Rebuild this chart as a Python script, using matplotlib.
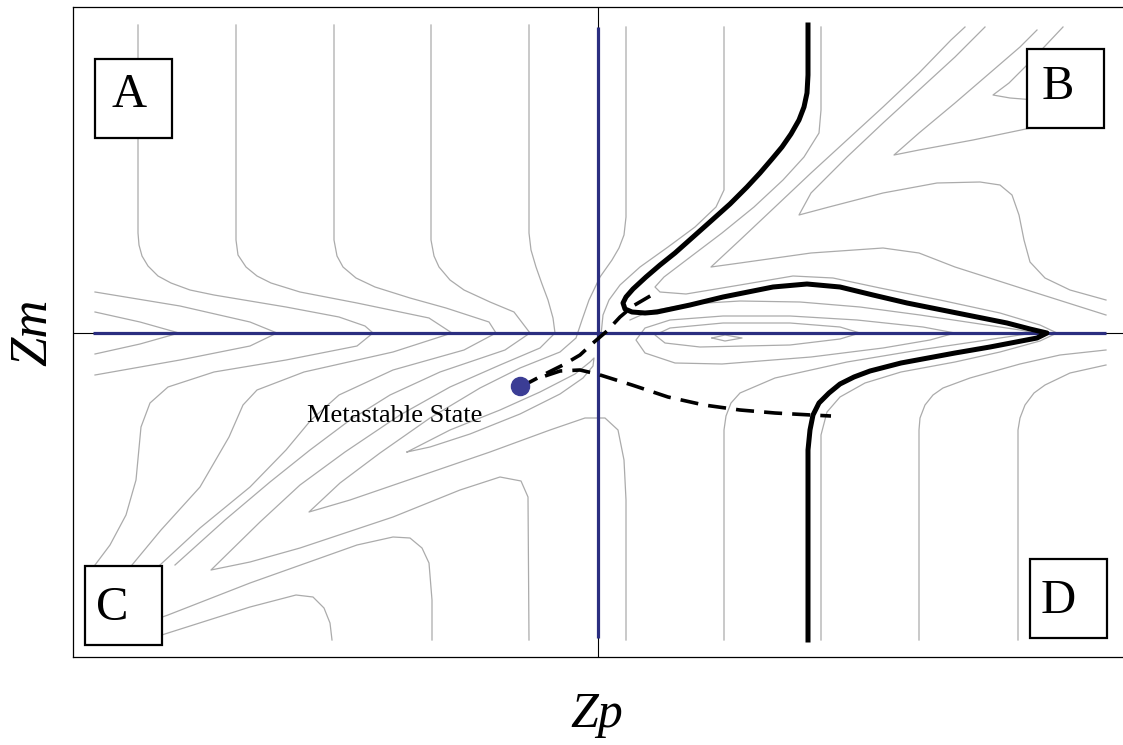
import matplotlib.pyplot as plt
from matplotlib.patches import Rectangle

# chart units: zp to the right, zm up, origin at the cross of the two axes
# ---- thick solid curve
main_zp = [210, 210, 209, 206, 201, 193, 184, 174, 162, 149, 132, 113, 95, 77, 62, 48, 35, 28,
           25, 27, 34, 47, 59, 92, 125, 175, 209, 242, 275, 309, 359, 409, 432, 449, 439, 392,
           357, 303, 272, 256, 242, 231, 221, 215, 212, 210, 210]
main_zm = [308, 258, 240, 226, 213, 199, 186, 174, 160, 146, 129, 112, 96, 80, 68, 56, 44, 36,
           30, 24, 21, 20, 21, 28, 36, 46, 49, 46, 38, 30, 20, 10, 4, 0, -5, -14,
           -20, -30, -38, -44, -51, -60, -70, -82, -97, -117, -307]

# ---- dashed paths out of the metastable state
dash1_zp = [-77, -68, -51, -35, -18, -5, 9, 22, 35, 59]
dash1_zm = [-53, -49, -40, -32, -22, -10, 2, 16, 27, 41]
dash2_zp = [-53, -38, -18, -1, 34, 70, 106, 142, 177, 213, 233]
dash2_zm = [-43, -38, -37, -41, -52, -64, -72, -77, -80, -82, -83]

meta_zp, meta_zm = -78, -53

# ---- grey level curves
g1_zp = [-503, -458, -419, -458, -503]
g1_zm = [21, 11, 0, -11, -21]
g2_zp = [-503, -418, -348, -321, -348, -418, -503]
g2_zm = [41, 27, 11, 0, -13, -27, -42]
g3_zp = [-460, -460, -459, -456, -450, -440, -427, -408, -384, -312, -259, -233, -225, -241,
         -312, -384, -430, -448, -457, -462, -472, -488, -503]
g3_zm = [308, 100, 88, 77, 67, 57, 50, 43, 38, 26, 16, 7, 0, -13,
         -27, -39, -54, -70, -94, -147, -182, -212, -232]
g4_zp = [-362, -362, -360, -352, -341, -327, -298, -241, -169, -146, -205, -294, -341, -355,
         -369, -398, -437, -466]
g4_zm = [308, 93, 78, 66, 57, 50, 41, 30, 15, 0, -19, -39, -57, -72, -104, -154, -197, -232]
g5_zp = [-264, -264, -261, -255, -242, -223, -188, -152, -109, -102, -134, -205, -259, -287,
         -312, -348, -398, -438]
g5_zm = [308, 93, 77, 66, 55, 46, 35, 25, 11, 0, -17, -37, -62, -87, -117, -154, -195, -232]
g6_zp = [-167, -167, -164, -159, -148, -134, -108, -84, -68, -93, -158, -208, -248, -288,
         -328, -373, -423]
g6_zm = [308, 93, 77, 66, 53, 43, 31, 21, 0, -17, -39, -62, -87, -117, -149, -187, -232]
g7_zp = [-69, -69, -67, -62, -56, -50, -45, -43, -58, -98, -148, -198, -253, -298, -338,
         -387, -348, -298, -205, -138, -98, -77, -70, -69]
g7_zm = [308, 100, 83, 66, 49, 33, 15, 0, -15, -32, -54, -82, -119, -152, -189,
         -237, -229, -215, -184, -157, -144, -148, -164, -307]
g8_zp = [28, 28, 26, 21, 14, 2, -9, -16, -22, -38, -78, -118, -168, -218, -258, -289, -248,
         -178, -108, -48, -13, 7, 20, 26, 28, 28]
g8_zm = [306, 116, 98, 85, 73, 56, 33, 13, -5, -19, -35, -55, -85, -120, -150, -179, -167,
         -143, -119, -97, -85, -85, -97, -127, -167, -307]
loop_zp = [-191, -148, -98, -58, -23, -8, -4, -5, -15, -38, -78, -128, -168, -191]
loop_zm = [-119, -97, -77, -59, -41, -29, -25, -33, -45, -61, -81, -101, -114, -119]
b1_zp = [-458, -430, -348, -241, -205, -188, -176, -169, -166, -166]
b1_zm = [-292, -282, -250, -212, -204, -205, -215, -230, -267, -307]
b2_zp = [-458, -430, -348, -302, -285, -274, -268, -266]
b2_zm = [-309, -300, -274, -262, -264, -275, -290, -307]
u1_zp = [126, 126, 118, 97, 70, 42, 22, 11, 5, 3]
u1_zm = [306, 143, 126, 106, 86, 66, 48, 33, 18, -2]
h_zp = [223, 223, 221, 206, 185, 156, 124, 91, 66, 57, 62, 88, 142, 195, 235, 282, 342, 402,
        442, 459, 442, 402, 357, 303, 267, 242, 229, 223, 223]
h_zm = [306, 223, 200, 176, 153, 126, 100, 75, 56, 46, 41, 39, 48, 57, 55, 45, 33, 20, 8, 0,
        -8, -19, -29, -39, -50, -64, -79, -102, -307]
c1_zp = [367, 353, 321, 285, 249, 213, 177, 142, 113, 142, 213, 285, 321, 357, 429, 508]
c1_zm = [306, 293, 260, 226, 193, 160, 126, 93, 66, 70, 80, 85, 80, 66, 43, 18]
c2_zp = [387, 357, 321, 285, 249, 213, 201, 231, 285, 339, 382, 402, 414, 421, 426, 432, 447,
         472, 508]
c2_zm = [306, 276, 243, 210, 176, 140, 118, 126, 140, 150, 151, 148, 138, 118, 93, 71, 55,
         43, 33]
c3_zp = [439, 422, 393, 357, 321, 296, 321, 375, 447]
c3_zm = [303, 286, 261, 230, 200, 178, 183, 193, 208]
c4_zp = [465, 432, 411, 395, 412, 437]
c4_zm = [306, 271, 250, 238, 235, 233]
r1_zp = [357, 325, 259, 192, 125, 72, 47, 38, 47, 77, 124, 213, 285, 332, 357]
r1_zm = [0, 6, 13, 17, 17, 13, 5, -7, -20, -30, -31, -24, -15, -7, 0]
r2_zp = [262, 242, 192, 125, 72, 57, 67, 102, 192, 242, 262]
r2_zm = [0, 6, 10, 10, 5, -2, -10, -14, -12, -6, 0]
r3_zp = [114, 127, 144, 127, 114]
r3_zm = [-5, -2, -5, -8, -5]
d2_zp = [126, 126, 128, 133, 142, 177, 249, 321, 382, 422, 437, 422, 382, 322, 262, 202,
         142, 92, 52, 32]
d2_zm = [-307, -97, -83, -70, -60, -45, -29, -17, -8, -2, 0, 3, 9, 18, 26, 31, 32, 29, 22, 13]
d3_zp = [321, 321, 322, 327, 335, 345, 372, 422, 462, 508]
d3_zm = [-307, -97, -85, -72, -62, -55, -45, -31, -22, -17]
d4_zp = [420, 420, 422, 427, 436, 447, 472, 508]
d4_zm = [-307, -97, -85, -72, -60, -52, -40, -32]

grey_curves = [(g1_zp, g1_zm), (g2_zp, g2_zm), (g3_zp, g3_zm), (g4_zp, g4_zm),
               (g5_zp, g5_zm), (g6_zp, g6_zm), (g7_zp, g7_zm), (g8_zp, g8_zm),
               (loop_zp, loop_zm), (b1_zp, b1_zm), (b2_zp, b2_zm), (u1_zp, u1_zm),
               (h_zp, h_zm), (c1_zp, c1_zm), (c2_zp, c2_zm), (c3_zp, c3_zm),
               (c4_zp, c4_zm), (r1_zp, r1_zm), (r2_zp, r2_zm), (r3_zp, r3_zm),
               (d2_zp, d2_zm), (d3_zp, d3_zm), (d4_zp, d4_zm)]

# corner labels
corner_labels = ['A', 'B', 'C', 'D']
axis_zp_span = (-505, 508)
axis_zm_span = (-305, 306)

serif = 'Liberation Serif'
navy = '#2b2e80'

fig = plt.figure(figsize=(11.23, 7.45), dpi=100)
ax = fig.add_axes([73 / 1123, 88 / 745, 1050 / 1123, 650 / 745])
ax.set_xlim(-525, 525)
ax.set_ylim(-324, 326)
ax.set_xticks([])
ax.set_yticks([])
ax.spines['right'].set_visible(False)
for s in ['left', 'top', 'bottom']:
    ax.spines[s].set_linewidth(0.9)

for zp, zm in grey_curves:
    ax.plot(zp, zm, color='#ababab', lw=0.9, solid_joinstyle='round', zorder=1)

ax.axhline(0, color='black', lw=0.8, zorder=2)
ax.axvline(0, color='black', lw=0.8, zorder=2)
ax.hlines(0, *axis_zp_span, color=navy, lw=2.3, zorder=3)
ax.vlines(0, *axis_zm_span, color=navy, lw=2.3, zorder=3)

ax.plot(main_zp, main_zm, color='black', lw=3.6, solid_joinstyle='round', zorder=4)
ax.plot(dash1_zp, dash1_zm, color='black', lw=2.6, dashes=(5, 2.8), zorder=4)
ax.plot(dash2_zp, dash2_zm, color='black', lw=2.6, dashes=(5, 2.8), zorder=4)
ax.plot(meta_zp, meta_zm, 'o', color='#3b3d95', ms=13, zorder=5)
ax.text(-203, -89, 'Metastable State', family=serif, fontsize=19,
        ha='center', va='baseline', zorder=6)

# boxes: (left, bottom) corner, letter position
box_specs = [(-503, 195, -469, 226), (429, 205, 460, 234),
             (-513, -312, -486, -287), (432, -305, 460, -280)]
for lab, (x0, y0, tx, ty) in zip(corner_labels, box_specs):
    ax.add_patch(Rectangle((x0, y0), 77, 79, facecolor='white', edgecolor='black',
                           lw=1.6, zorder=7))
    ax.text(tx, ty, lab, family=serif, fontsize=35, ha='center', va='baseline', zorder=8)

fig.text(33 / 1123, 1 - 332 / 745, 'Zm', family=serif, style='italic', fontsize=38,
         rotation=90, ha='center', va='center')
fig.text(597 / 1123, 1 - 715 / 745, 'Zp', family=serif, style='italic', fontsize=36,
         ha='center', va='center')

fig.savefig('out.png', dpi=100)
